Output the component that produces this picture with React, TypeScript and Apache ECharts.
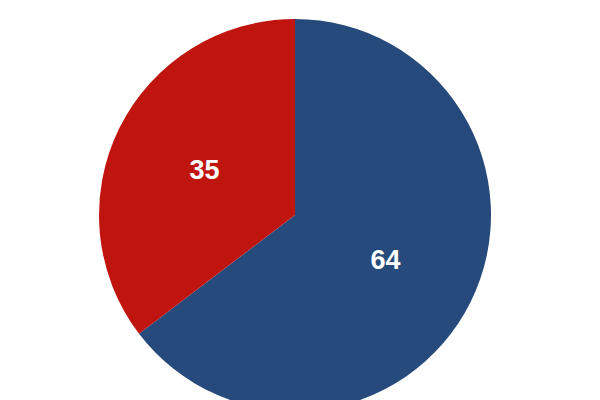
import React, { useEffect, useRef } from 'react';
import * as echarts from 'echarts';

const categories = ['A', 'B'];
const values = [64, 35];
const colors = ['#264a7c', '#c0150f'];

const App = (): JSX.Element => {
  const divEL = useRef(null);

  useEffect(() => {
    document.body.style.margin = '0';
    const instance = echarts.init(divEL.current as any, null, { renderer: 'svg' });
    const option: echarts.EChartsOption = {
      animation: false,
      backgroundColor: '#ffffff',
      series: [
        {
          type: 'pie',
          center: [295, 215],
          radius: 196,
          startAngle: 90,
          clockwise: true,
          data: categories.map((c, i) => ({
            name: c,
            value: values[i],
            itemStyle: { color: colors[i] },
          })),
          label: {
            show: true,
            position: 'inside',
            formatter: '{c}',
            color: '#ffffff',
            fontFamily: 'Liberation Sans',
            fontWeight: 'bold',
            fontSize: 27,
          },
          labelLine: { show: false },
          emphasis: { disabled: true },
        },
      ],
    };
    instance.setOption(option);
    return () => {
      instance.dispose();
    };
  }, []);

  return <div ref={divEL} style={{ width: 600, height: 400 }}></div>;
};

export default App;
